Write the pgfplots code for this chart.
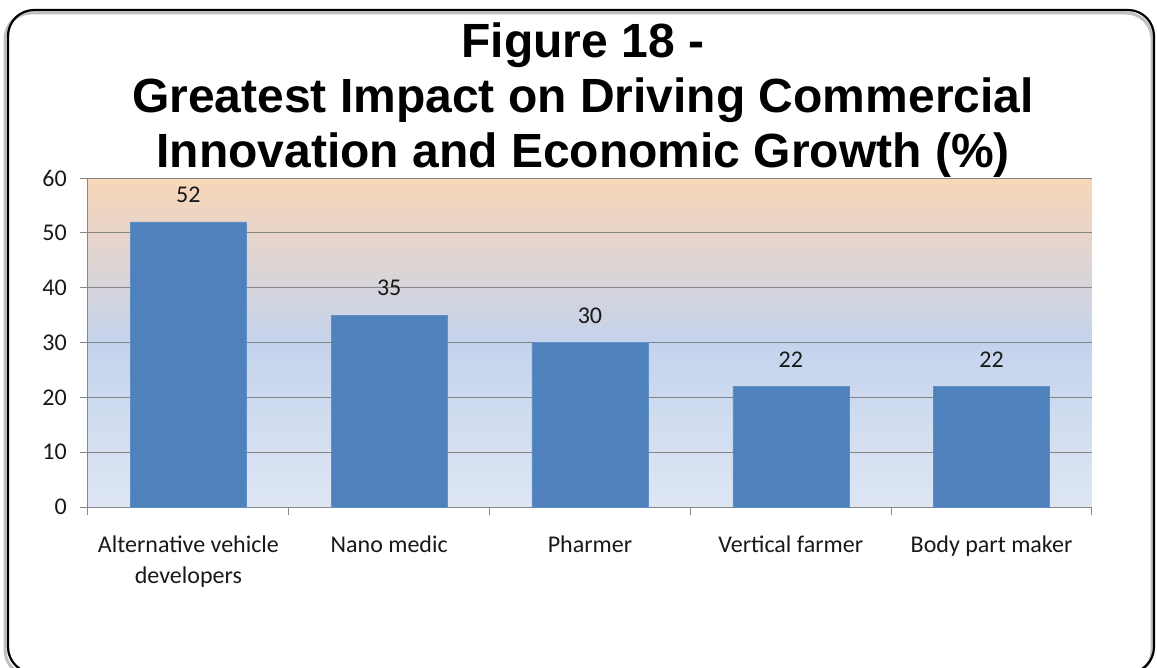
\documentclass[border=0pt]{standalone}
\usepackage{pgfplots}
\pgfplotsset{compat=1.18}
\usepackage{fontspec}
\setmainfont{Liberation Sans}
\newfontfamily\calibri{Carlito}
\definecolor{barblue}{RGB}{79,129,189}
\definecolor{gridgray}{RGB}{134,134,134}
\definecolor{bgtop}{RGB}{249,214,184}
\definecolor{bgmid}{RGB}{196,211,236}
\definecolor{bgbot}{RGB}{222,230,244}
\begin{document}
\begin{tikzpicture}
\useasboundingbox (0pt,0pt) rectangle (1157pt,-668pt);
\fill[white] (0pt,0pt) rectangle (1157pt,-668pt);
\begin{scope}
\clip (0pt,0pt) rectangle (1157pt,-668pt);
\draw[black!25, line width=3pt, rounded corners=26pt] (5pt,-13pt) rectangle (1152pt,-676pt);
\draw[black, line width=2.2pt, rounded corners=26pt] (8pt,-10pt) rectangle (1154pt,-673pt);
\end{scope}
\node[anchor=base, font=\bfseries\fontsize{48}{52}\selectfont] at (583pt,-58pt) {Figure 18 -};
\node[anchor=base, font=\bfseries\fontsize{48}{52}\selectfont] at (583pt,-113pt) {Greatest Impact on Driving Commercial};
\node[anchor=base, font=\bfseries\fontsize{48}{52}\selectfont] at (583pt,-168pt) {Innovation and Economic Growth (\%)};
\begin{axis}[
  at={(88pt,-507pt)}, anchor=south west,
  scale only axis, width=1004pt, height=329pt,
  xmin=-0.5, xmax=4.5, ymin=0, ymax=60,
  axis lines*=left,
  axis line style={gridgray, line width=1pt},
  axis background/.style={top color=bgtop, bottom color=bgbot, middle color=bgmid},
  ytick={0,10,...,60},
  xtick={-0.5,0.5,...,4.5},
  x tick label as interval=true,
  xticklabels={{Alternative vehicle\\developers},{Nano medic},{Pharmer},{Vertical farmer},{Body part maker}},
  tick align=outside,
  major tick length=8pt,
  tick style={gridgray, line width=1pt},
  ymajorgrids=true,
  grid style={gridgray, line width=1pt},
  /pgf/number format/assume math mode=true,
  ticklabel style={font=\calibri\fontsize{24}{31}\selectfont, text=black!90},
  xticklabel style={align=center, anchor=north, inner sep=0pt, yshift=-21pt},
  yticklabel style={anchor=east, inner sep=0pt, xshift=-13pt},
  ybar, bar width=116pt,
  nodes near coords,
  every node near coord/.append style={font=\calibri\fontsize{24}{29}\selectfont, text=black!90, inner sep=0pt, yshift=19pt},
  clip=false,
]
\addplot[fill=barblue, draw=barblue!90!white, line width=0.5pt] coordinates {(0,52) (1,35) (2,30) (3,22) (4,22)};
\end{axis}
\end{tikzpicture}
\end{document}
